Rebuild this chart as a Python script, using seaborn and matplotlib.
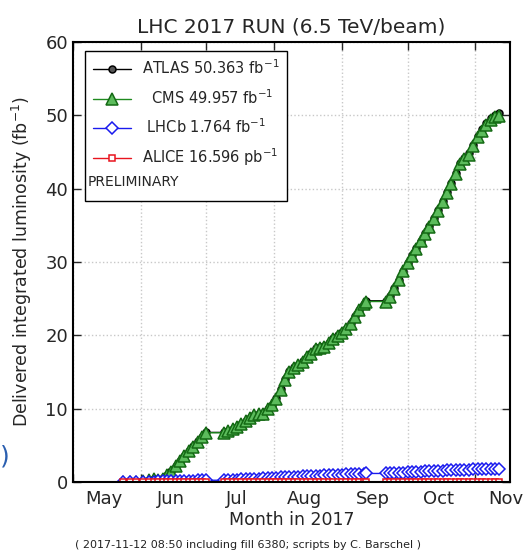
import numpy as np
import pandas as pd
import matplotlib
matplotlib.use("Agg")
import matplotlib.pyplot as plt
import matplotlib.dates as mdates
from matplotlib.lines import Line2D
import seaborn as sns

# fill dates (2017) and delivered luminosity per experiment
fill_dates = [
    "05-24", "05-27", "05-30", "06-02", "06-05", "06-07", "06-09", "06-11", "06-13",
    "06-15", "06-17", "06-19", "06-21", "06-23", "06-25", "06-27", "06-29", "07-01",
    "07-09", "07-11", "07-13", "07-15", "07-17", "07-19", "07-21", "07-23", "07-25",
    "07-27", "07-29", "07-31",
    "08-02", "08-04", "08-06", "08-08", "08-10", "08-12", "08-14", "08-16", "08-18",
    "08-20", "08-22", "08-24", "08-26", "08-28", "08-30", "09-01", "09-03", "09-05",
    "09-07", "09-09", "09-11", "09-12",
    "09-21", "09-23", "09-25", "09-27", "09-29", "10-01", "10-03", "10-05", "10-07",
    "10-09", "10-11", "10-13", "10-15", "10-17", "10-19", "10-21", "10-23", "10-25",
    "10-27", "10-29", "10-31", "11-02", "11-04", "11-06", "11-08", "11-10", "11-12",
]

atlas_fb = [
    0.00, 0.01, 0.05, 0.12, 0.26, 0.36, 0.31, 0.47, 0.93, 1.45, 2.15, 2.85, 3.55, 4.25, 4.85, 5.55, 6.15, 6.75,
    6.75, 6.95, 7.25, 7.55, 7.95, 8.35, 8.75, 9.15, 9.25, 9.35, 9.95, 10.55,
    11.4, 12.7, 14.0, 15.1, 15.7, 16.0, 16.5, 17.1, 17.6, 18.2, 18.4, 18.5, 19.0, 19.6, 20.0, 20.4, 20.9, 21.7,
    22.6, 23.5, 24.3, 24.7,
    24.7, 25.3, 26.4, 27.6, 28.8, 29.9, 30.9, 31.9, 32.9, 33.9, 34.9, 36.0, 37.1, 38.3, 39.5, 40.7, 42.1, 43.5,
    44.2, 44.8, 46.0, 47.2, 48.1, 48.9, 49.6, 50.1, 50.363,
]
cms_fb = [
    0.00, 0.01, 0.05, 0.12, 0.25, 0.35, 0.30, 0.45, 0.9, 1.4, 2.1, 2.8, 3.5, 4.2, 4.8, 5.5, 6.1, 6.7,
    6.7, 6.9, 7.2, 7.5, 7.9, 8.3, 8.7, 9.1, 9.2, 9.3, 9.9, 10.5,
    11.3, 12.6, 13.9, 15.0, 15.6, 15.9, 16.4, 17.0, 17.5, 18.1, 18.3, 18.4, 18.9, 19.5, 19.9, 20.3, 20.8, 21.6,
    22.5, 23.4, 24.2, 24.6,
    24.6, 25.2, 26.3, 27.5, 28.7, 29.8, 30.8, 31.8, 32.8, 33.8, 34.8, 35.9, 37.0, 38.2, 39.4, 40.6, 42.0, 43.4,
    44.0, 44.6, 45.8, 47.0, 47.9, 48.7, 49.4, 49.8, 49.957,
]
lhcb_fb = [
    0.0, 0.0, 0.01, 0.02, 0.04, 0.05, 0.06, 0.08, 0.10, 0.12, 0.14, 0.16, 0.17, 0.18, 0.19, 0.20, 0.21, 0.22,
    0.23, 0.26, 0.29, 0.32, 0.35, 0.38, 0.41, 0.44, 0.46, 0.48, 0.51, 0.54,
    0.57, 0.60, 0.64, 0.67, 0.70, 0.73, 0.76, 0.79, 0.82, 0.85, 0.87, 0.89, 0.92, 0.95, 0.98, 1.00, 1.03, 1.06,
    1.09, 1.12, 1.14, 1.15,
    1.15, 1.18, 1.21, 1.24, 1.27, 1.30, 1.33, 1.36, 1.39, 1.42, 1.45, 1.48, 1.51, 1.54, 1.57, 1.60, 1.63, 1.65,
    1.67, 1.69, 1.71, 1.73, 1.74, 1.75, 1.76, 1.76, 1.764,
]
alice_pb = [
    0, 0, 0.05, 0.1, 0.2, 0.3, 0.4, 0.5, 0.6, 0.7, 0.8, 0.9, 1.0, 1.1, 1.2, 1.3, 1.4, 1.5,
    1.5, 1.7, 1.9, 2.1, 2.3, 2.5, 2.7, 2.9, 3.1, 3.3, 3.5, 3.7,
    3.9, 4.1, 4.3, 4.5, 4.7, 4.9, 5.1, 5.3, 5.5, 5.7, 5.9, 6.1, 6.3, 6.5, 6.7, 6.9, 7.1, 7.3,
    7.5, 7.7, 7.9, 8.0,
    8.0, 8.3, 8.6, 8.9, 9.2, 9.5, 9.8, 10.1, 10.4, 10.7, 11.0, 11.3, 11.6, 11.9, 12.2, 12.5, 12.8, 13.1,
    13.4, 13.7, 14.0, 14.4, 14.8, 15.3, 15.8, 16.2, 16.596,
]

labels = ["ATLAS 50.363 fb$^{-1}$", "  CMS 49.957 fb$^{-1}$", " LHCb 1.764 fb$^{-1}$", "ALICE 16.596 pb$^{-1}$"]

sns.set_theme(style="ticks")
plt.rcParams["font.family"] = ["DejaVu Sans"]

dates = pd.to_datetime(["2017-" + d for d in fill_dates])
df = pd.DataFrame({
    "date": dates,
    "ATLAS": atlas_fb,
    "CMS": cms_fb,
    "LHCb": lhcb_fb,
    "ALICE": np.array(alice_pb) / 1000.0,
})

styles = {
    "ATLAS": dict(color="black", marker="o", ms=5, mfc="#555555", mec="black"),
    "CMS": dict(color="#1f8a1f", marker="^", ms=8.5, mfc="#5cbc5c", mec="#146a14"),
    "LHCb": dict(color="#1a1aee", marker="D", ms=6, mfc="white", mec="#1a1aee"),
    "ALICE": dict(color="#e8141e", marker="s", ms=5, mfc="white", mec="#e8141e"),
}

fig = plt.figure(figsize=(5.24, 5.52), dpi=100)
ax = fig.add_axes([0.139, 0.127, 0.835, 0.797])

for col, lab in zip(["ATLAS", "CMS", "LHCb", "ALICE"], labels):
    st = styles[col]
    sns.lineplot(data=df, x="date", y=col, ax=ax, estimator=None, color=st["color"],
                 marker=st["marker"], markersize=st["ms"], markerfacecolor=st["mfc"],
                 markeredgecolor=st["mec"], markeredgewidth=1.1, linewidth=1.0, label=lab)

ax.set_xlim(pd.Timestamp("2017-05-01"), pd.Timestamp("2017-11-17"))
ax.set_ylim(0, 60)
ax.set_yticks(np.arange(0, 61, 10))

ax.xaxis.set_major_locator(mdates.MonthLocator(bymonthday=1))
ax.xaxis.set_major_formatter(plt.NullFormatter())
ax.xaxis.set_minor_locator(mdates.MonthLocator(bymonthday=15))
ax.xaxis.set_minor_formatter(mdates.DateFormatter("%b"))
ax.tick_params(axis="x", which="minor", length=0, labelsize=13, pad=6)
ax.tick_params(axis="both", which="major", direction="in", length=6, width=1,
               top=True, right=True, labelsize=13)
ax.grid(True, which="major", linestyle=":", color="#c8c8c8", linewidth=1)

for s in ax.spines.values():
    s.set_linewidth(1.5)
    s.set_color("black")

ax.set_xlabel("Month in 2017", fontsize=12.5, labelpad=2)
ax.set_ylabel("Delivered integrated luminosity (fb$^{-1}$)", fontsize=12.5, labelpad=8)
ax.set_title("LHC 2017 RUN (6.5 TeV/beam)", fontsize=14.5, pad=7)

handles, labs = ax.get_legend_handles_labels()
handles.append(Line2D([], [], linestyle="none", marker="none"))
labs.append(" ")
leg = ax.legend(handles, labs, loc="upper left", fontsize=10.5, frameon=True, fancybox=False,
                edgecolor="black", framealpha=1, handlelength=2.6, labelspacing=0.72,
                borderpad=0.5, bbox_to_anchor=(0.012, 0.995))
leg.get_frame().set_linewidth(1.0)
ax.text(0.033, 0.682, "PRELIMINARY", transform=ax.transAxes, fontsize=10, va="center",
        ha="left", zorder=10)

fig.text(0.143, 0.008, "( 2017-11-12 08:50 including fill 6380; scripts by C. Barschel )",
         fontsize=8, color="#222222")
fig.text(0.0, 0.16, ")", fontsize=18, color="#2b5fb0")

fig.savefig("out.png", dpi=100)
plt.close(fig)
